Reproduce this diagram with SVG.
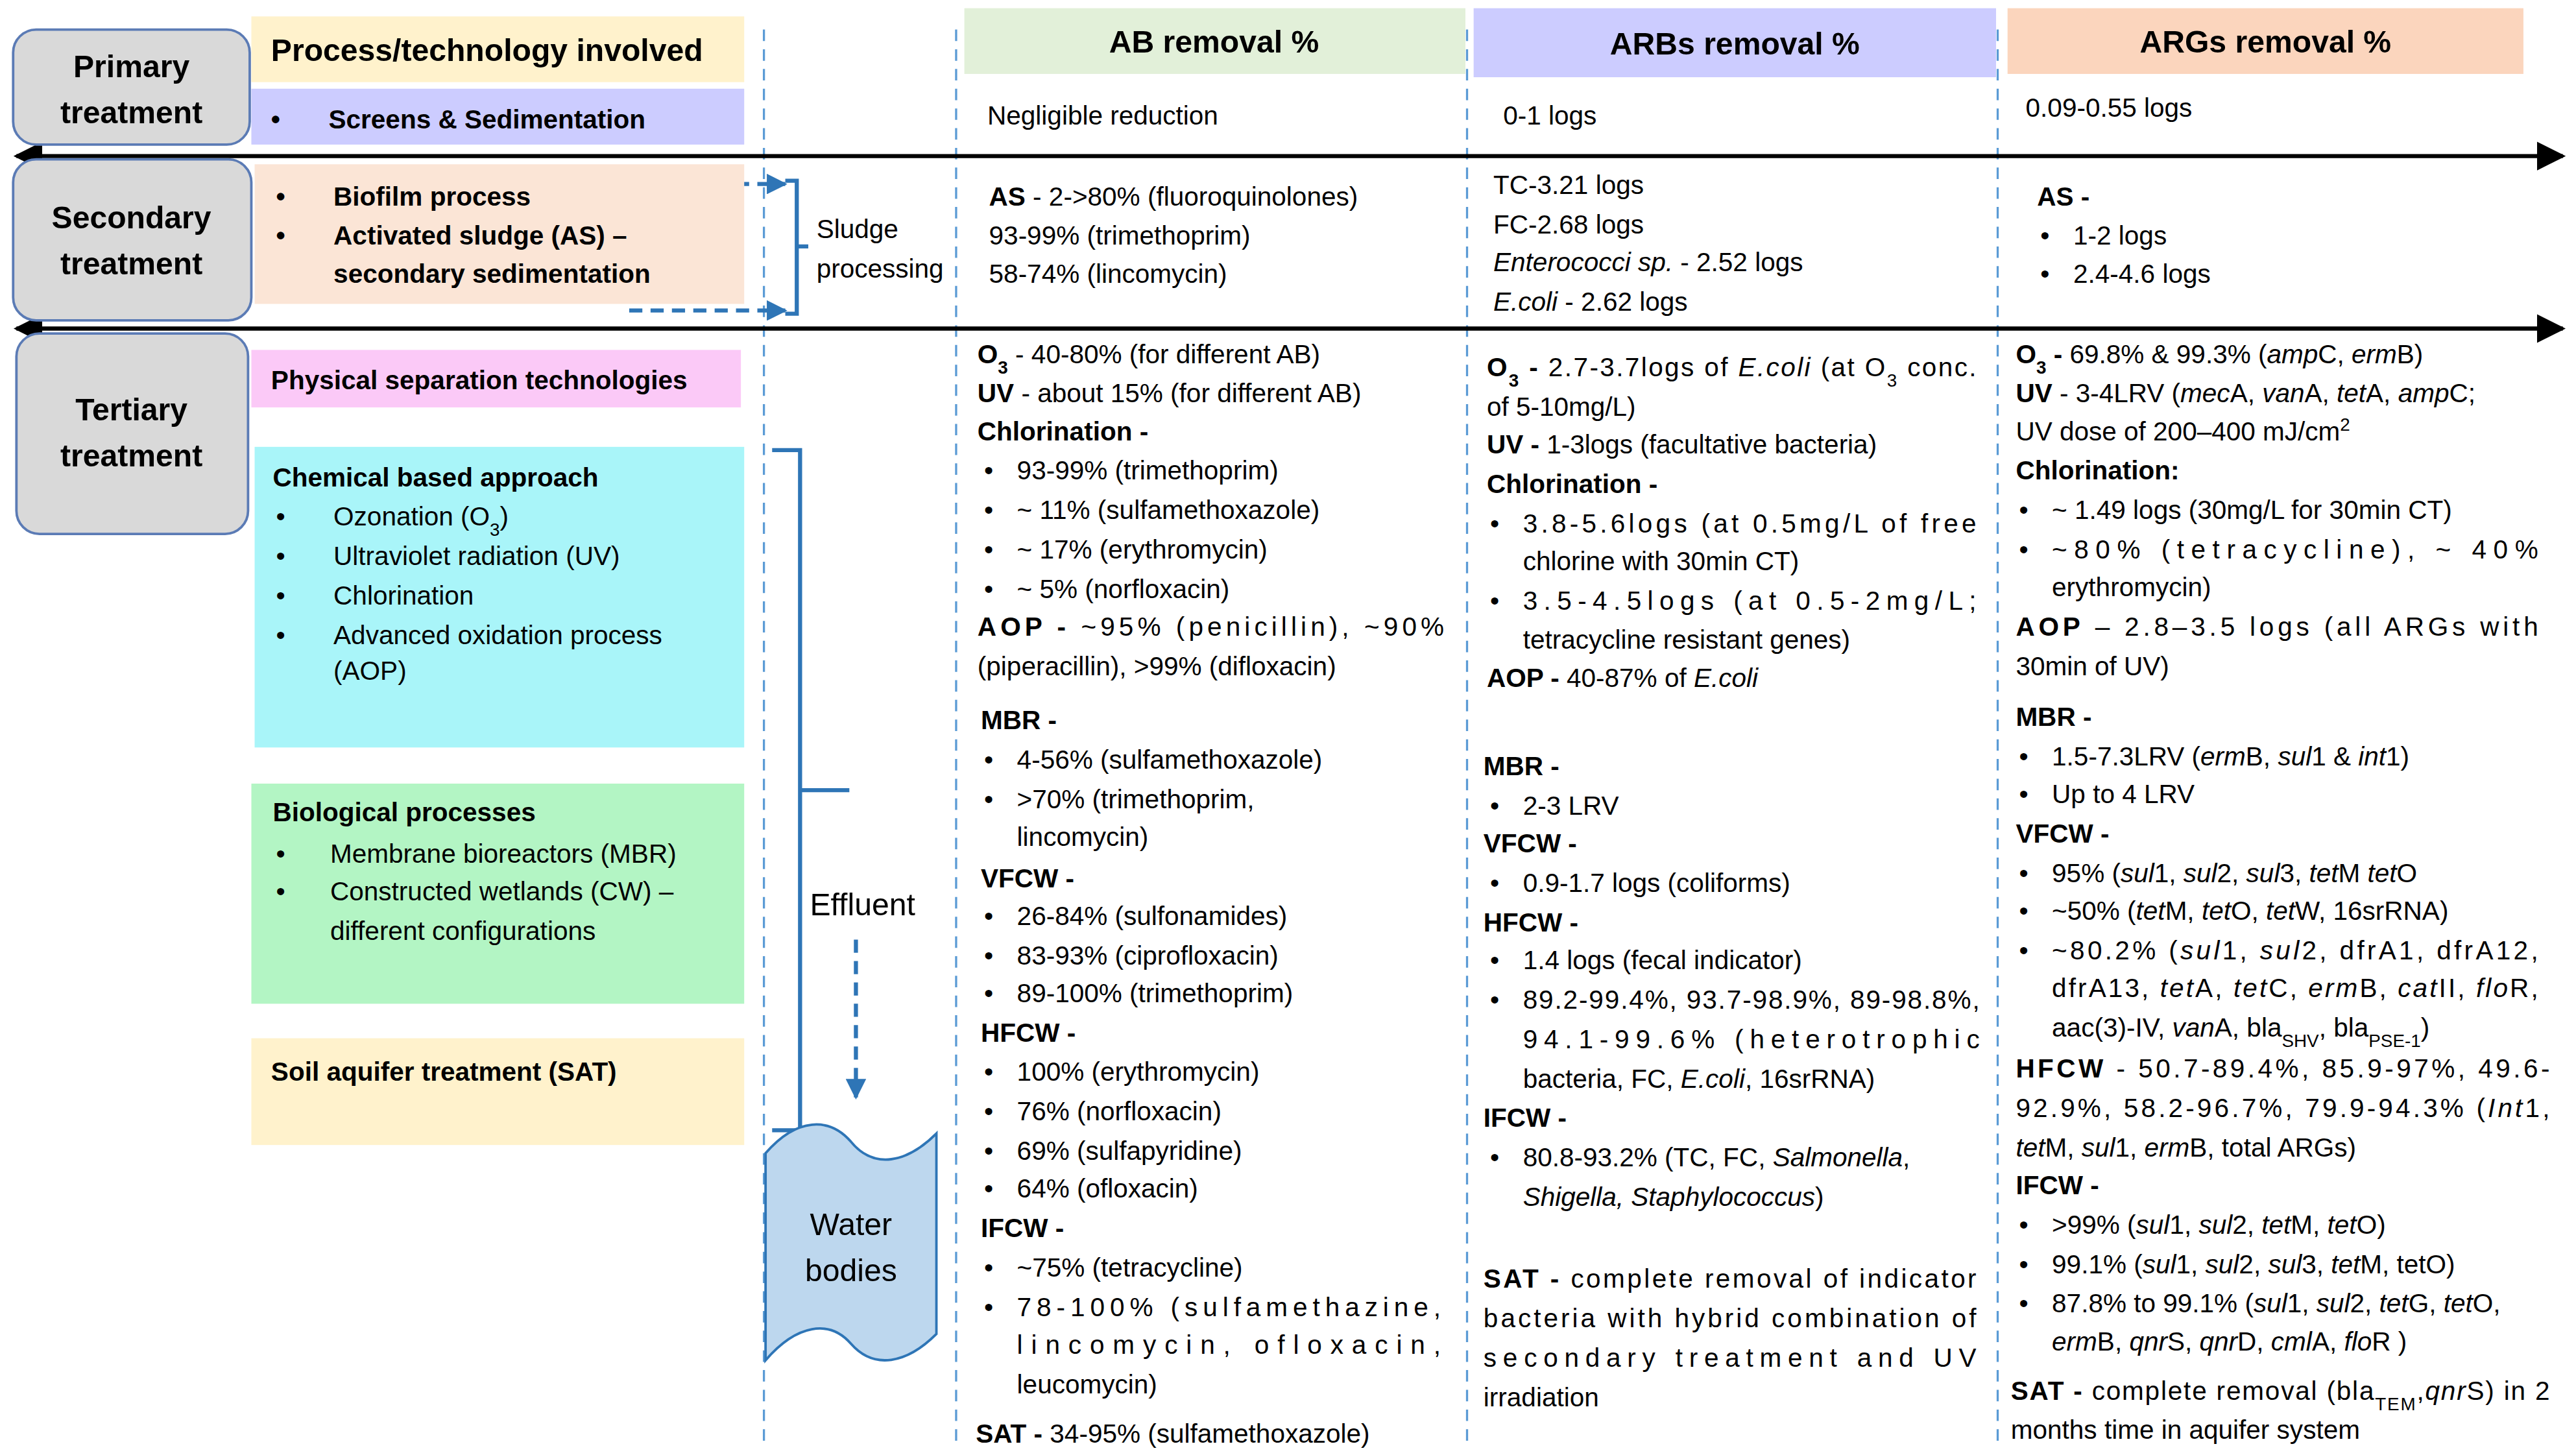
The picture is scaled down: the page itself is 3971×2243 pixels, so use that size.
<svg xmlns="http://www.w3.org/2000/svg" width="3971" height="2243" viewBox="0 0 3971 2243">
<style>
text{font-family:"Liberation Sans",Arial,sans-serif;font-size:16px;fill:#000}
.b{font-weight:bold}.i{font-style:italic}
.h{font-size:19px;font-weight:bold}
.c{text-anchor:middle}
.s{font-size:11px;baseline-shift:sub}
.p{font-size:11px;baseline-shift:super}
.vd{stroke:#5b9bd5;stroke-width:1.3;stroke-dasharray:7 5;fill:none}
.bl{stroke:#2e75b6;stroke-width:2.5;fill:none}
.nb{fill:#d9d9d9;stroke:#5b7bb5;stroke-width:1.5}
</style>
<defs>
<marker id="ah" viewBox="0 0 10 10" refX="9" refY="5" markerWidth="7" markerHeight="7" orient="auto-start-reverse"><path d="M0,0L10,5L0,10z" fill="#000"/></marker>
<marker id="bh" viewBox="0 0 10 10" refX="9" refY="5" markerWidth="5" markerHeight="5" orient="auto"><path d="M0,0L10,5L0,10z" fill="#2e75b6"/></marker>
</defs>
<rect width="3971" height="2243" fill="#fff"/>
<g transform="scale(2.5325)">
<g id="connectors">
<line class="vd" x1="465" y1="18" x2="465" y2="880"/>
<line class="vd" x1="582" y1="18" x2="582" y2="880"/>
<line class="vd" x1="893" y1="18" x2="893" y2="880"/>
<line class="vd" x1="1216" y1="18" x2="1216" y2="880"/>
<line x1="10" y1="95" x2="1560" y2="95" stroke="#000" stroke-width="2.5" marker-start="url(#ah)" marker-end="url(#ah)"/>
<line x1="10" y1="200" x2="1560" y2="200" stroke="#000" stroke-width="2.5" marker-start="url(#ah)" marker-end="url(#ah)"/>
<line x1="383" y1="112" x2="478" y2="112" stroke="#2e75b6" stroke-width="2.5" stroke-dasharray="8 5" marker-end="url(#bh)"/>
<line x1="383" y1="189" x2="478" y2="189" stroke="#2e75b6" stroke-width="2.5" stroke-dasharray="8 5" marker-end="url(#bh)"/>
<path class="bl" d="M478,110 H485 V191 H478 M485,150 H492"/>
<path class="bl" d="M470,274 H487 V688 H470 M487,481 H517"/>
<line x1="521" y1="572" x2="521" y2="668" stroke="#2e75b6" stroke-width="2.5" stroke-dasharray="8 5" marker-end="url(#bh)"/>
</g>
<g id="primary"><rect class="nb" x="8" y="18" width="144" height="70" rx="14"/><text class="h c" x="80" y="47">Primary</text><text class="h c" x="80" y="75">treatment</text></g>
<g id="secondary"><rect class="nb" x="8" y="97" width="145" height="98" rx="14"/><text class="h c" x="80" y="139">Secondary</text><text class="h c" x="80" y="167">treatment</text></g>
<g id="tertiary"><rect class="nb" x="10" y="203" width="141" height="122" rx="14"/><text class="h c" x="80" y="256">Tertiary</text><text class="h c" x="80" y="284">treatment</text></g>
<g id="process-header"><rect x="153" y="10" width="300" height="40" fill="#fff2cc"/><text class="h" x="165" y="37">Process/technology involved</text></g>
<g id="screens"><rect x="153" y="54" width="300" height="34" fill="#ccccff"/><text class="b" x="165" y="78">•</text><text class="b" x="200" y="78">Screens &amp; Sedimentation</text></g>
<g id="secondary-tech"><rect x="155" y="100" width="298" height="85" fill="#fbe5d6"/>
<text class="b" x="168" y="125">•</text><text class="b" x="203" y="125">Biofilm process</text>
<text class="b" x="168" y="149">•</text><text class="b" x="203" y="149">Activated sludge (AS) –</text>
<text class="b" x="203" y="172">secondary sedimentation</text></g>
<g id="sludge"><text x="497" y="145">Sludge</text><text x="497" y="169">processing</text></g>
<g id="ab-header"><rect x="587" y="5" width="305" height="40" fill="#e2f0d9"/><text class="h c" x="739" y="32">AB removal %</text></g>
<g id="arb-header"><rect x="897" y="5" width="318" height="42" fill="#ccccff"/><text class="h c" x="1056" y="33">ARBs removal %</text></g>
<g id="arg-header"><rect x="1222" y="5" width="314" height="40" fill="#fbd5bd"/><text class="h c" x="1379" y="32">ARGs removal %</text></g>
<g id="physical"><rect x="153" y="213" width="298" height="35" fill="#fbc9f7"/><text class="b" x="165" y="237">Physical separation technologies</text></g>
<g id="chemical"><rect x="155" y="272" width="298" height="183" fill="#a9f5f9"/>
<text class="b" x="166" y="296">Chemical based approach</text>
<text x="168" y="320">•</text><text x="203" y="320">Ozonation (O<tspan class="s">3</tspan>)</text>
<text x="168" y="344">•</text><text x="203" y="344">Ultraviolet radiation (UV)</text>
<text x="168" y="368">•</text><text x="203" y="368">Chlorination</text>
<text x="168" y="392">•</text><text x="203" y="392">Advanced oxidation process</text>
<text x="203" y="414">(AOP)</text></g>
<g id="biological"><rect x="153" y="477" width="300" height="134" fill="#b3f5c4"/>
<text class="b" x="166" y="500">Biological processes</text>
<text x="168" y="525">•</text><text x="201" y="525">Membrane bioreactors (MBR)</text>
<text x="168" y="548">•</text><text x="201" y="548">Constructed wetlands (CW) –</text>
<text x="201" y="572">different configurations</text></g>
<g id="sat"><rect x="153" y="632" width="300" height="65" fill="#fff2cc"/><text class="b" x="165" y="658">Soil aquifer treatment (SAT)</text></g>
<g id="effluent"><text x="493" y="557" style="font-size:19px">Effluent</text></g>
<g id="water"><path d="M466,702 C485,680 505,680 518,695 C532,712 552,708 570,690 L570,812 C552,830 532,834 518,818 C505,803 485,806 466,828 Z" fill="#bdd7ee" stroke="#2e75b6" stroke-width="1.5"/>
<text class="c" x="518" y="752" style="font-size:19px">Water</text><text class="c" x="518" y="780" style="font-size:19px">bodies</text></g>

<g id="ab-col">
<text x="601" y="76">Negligible reduction</text>
<text x="602" y="125"><tspan class="b">AS</tspan> - 2-&gt;80% (fluoroquinolones)</text>
<text x="602" y="149">93-99% (trimethoprim)</text>
<text x="602" y="172">58-74% (lincomycin)</text>
<text x="595" y="221"><tspan class="b">O<tspan class="s">3</tspan></tspan> - 40-80% (for different AB)</text>
<text x="595" y="245"><tspan class="b">UV</tspan> - about 15% (for different AB)</text>
<text class="b" x="595" y="268">Chlorination -</text>
<text x="599" y="292">•</text><text x="619" y="292">93-99% (trimethoprim)</text>
<text x="599" y="316">•</text><text x="619" y="316">~ 11% (sulfamethoxazole)</text>
<text x="599" y="340">•</text><text x="619" y="340">~ 17% (erythromycin)</text>
<text x="599" y="364">•</text><text x="619" y="364">~ 5% (norfloxacin)</text>
<text x="595" y="387" textLength="284" lengthAdjust="spacing"><tspan class="b">AOP -</tspan> ~95% (penicillin), ~90%</text>
<text x="595" y="411">(piperacillin), &gt;99% (difloxacin)</text>
<text class="b" x="597" y="444">MBR -</text>
<text x="599" y="468">•</text><text x="619" y="468">4-56% (sulfamethoxazole)</text>
<text x="599" y="492">•</text><text x="619" y="492">&gt;70% (trimethoprim,</text>
<text x="619" y="515">lincomycin)</text>
<text class="b" x="597" y="540">VFCW -</text>
<text x="599" y="563">•</text><text x="619" y="563">26-84% (sulfonamides)</text>
<text x="599" y="587">•</text><text x="619" y="587">83-93% (ciprofloxacin)</text>
<text x="599" y="610">•</text><text x="619" y="610">89-100% (trimethoprim)</text>
<text class="b" x="597" y="634">HFCW -</text>
<text x="599" y="658">•</text><text x="619" y="658">100% (erythromycin)</text>
<text x="599" y="682">•</text><text x="619" y="682">76% (norfloxacin)</text>
<text x="599" y="706">•</text><text x="619" y="706">69% (sulfapyridine)</text>
<text x="599" y="729">•</text><text x="619" y="729">64% (ofloxacin)</text>
<text class="b" x="597" y="753">IFCW -</text>
<text x="599" y="777">•</text><text x="619" y="777">~75% (tetracycline)</text>
<text x="599" y="801">•</text><text x="619" y="801" textLength="258" lengthAdjust="spacing">78-100% (sulfamethazine,</text>
<text x="619" y="824" textLength="258" lengthAdjust="spacing">lincomycin, ofloxacin,</text>
<text x="619" y="848">leucomycin)</text>
<text x="594" y="878"><tspan class="b">SAT -</tspan> 34-95% (sulfamethoxazole)</text>
</g>

<g id="arb-col">
<text x="915" y="76">0-1 logs</text>
<text x="909" y="118">TC-3.21 logs</text>
<text x="909" y="142">FC-2.68 logs</text>
<text x="909" y="165"><tspan class="i">Enterococci sp.</tspan> - 2.52 logs</text>
<text x="909" y="189"><tspan class="i">E.coli</tspan> - 2.62 logs</text>
<text x="905" y="229" textLength="298" lengthAdjust="spacing"><tspan class="b">O<tspan class="s">3</tspan> -</tspan> 2.7-3.7logs of <tspan class="i">E.coli</tspan> (at O<tspan class="s">3</tspan> conc.</text>
<text x="905" y="253">of 5-10mg/L)</text>
<text x="905" y="276"><tspan class="b">UV -</tspan> 1-3logs (facultative bacteria)</text>
<text class="b" x="905" y="300">Chlorination -</text>
<text x="907" y="324">•</text><text x="927" y="324" textLength="276" lengthAdjust="spacing">3.8-5.6logs (at 0.5mg/L of free</text>
<text x="927" y="347">chlorine with 30min CT)</text>
<text x="907" y="371">•</text><text x="927" y="371" textLength="276" lengthAdjust="spacing">3.5-4.5logs (at 0.5-2mg/L;</text>
<text x="927" y="395">tetracycline resistant genes)</text>
<text x="905" y="418"><tspan class="b">AOP -</tspan> 40-87% of <tspan class="i">E.coli</tspan></text>
<text class="b" x="903" y="472">MBR -</text>
<text x="907" y="496">•</text><text x="927" y="496">2-3 LRV</text>
<text class="b" x="903" y="519">VFCW -</text>
<text x="907" y="543">•</text><text x="927" y="543">0.9-1.7 logs (coliforms)</text>
<text class="b" x="903" y="567">HFCW -</text>
<text x="907" y="590">•</text><text x="927" y="590">1.4 logs (fecal indicator)</text>
<text x="907" y="614">•</text><text x="927" y="614" textLength="278" lengthAdjust="spacing">89.2-99.4%, 93.7-98.9%, 89-98.8%,</text>
<text x="927" y="638" textLength="278" lengthAdjust="spacing">94.1-99.6% (heterotrophic</text>
<text x="927" y="662">bacteria, FC, <tspan class="i">E.coli</tspan>, 16srRNA)</text>
<text class="b" x="903" y="686">IFCW -</text>
<text x="907" y="710">•</text><text x="927" y="710">80.8-93.2% (TC, FC, <tspan class="i">Salmonella</tspan>,</text>
<text x="927" y="734"><tspan class="i">Shigella, Staphylococcus</tspan>)</text>
<text x="903" y="784" textLength="300" lengthAdjust="spacing"><tspan class="b">SAT -</tspan> complete removal of indicator</text>
<text x="903" y="808" textLength="300" lengthAdjust="spacing">bacteria with hybrid combination of</text>
<text x="903" y="832" textLength="300" lengthAdjust="spacing">secondary treatment and UV</text>
<text x="903" y="856">irradiation</text>
</g>

<g id="arg-col">
<text x="1233" y="71">0.09-0.55 logs</text>
<text class="b" x="1240" y="125">AS -</text>
<text x="1242" y="149">•</text><text x="1262" y="149">1-2 logs</text>
<text x="1242" y="172">•</text><text x="1262" y="172">2.4-4.6 logs</text>
<text x="1227" y="221"><tspan class="b">O<tspan class="s">3</tspan> -</tspan> 69.8% &amp; 99.3% (<tspan class="i">amp</tspan>C, <tspan class="i">erm</tspan>B)</text>
<text x="1227" y="245"><tspan class="b">UV</tspan> - 3-4LRV (<tspan class="i">mec</tspan>A, <tspan class="i">van</tspan>A, <tspan class="i">tet</tspan>A, <tspan class="i">amp</tspan>C;</text>
<text x="1227" y="268">UV dose of 200–400 mJ/cm<tspan class="p">2</tspan></text>
<text class="b" x="1227" y="292">Chlorination:</text>
<text x="1229" y="316">•</text><text x="1249" y="316">~ 1.49 logs (30mg/L for 30min CT)</text>
<text x="1229" y="340">•</text><text x="1249" y="340" textLength="296" lengthAdjust="spacing">~80% (tetracycline), ~ 40%</text>
<text x="1249" y="363">erythromycin)</text>
<text x="1227" y="387" textLength="318" lengthAdjust="spacing"><tspan class="b">AOP</tspan> – 2.8–3.5 logs (all ARGs with</text>
<text x="1227" y="411">30min of UV)</text>
<text class="b" x="1227" y="442">MBR -</text>
<text x="1229" y="466">•</text><text x="1249" y="466">1.5-7.3LRV (<tspan class="i">erm</tspan>B, <tspan class="i">sul</tspan>1 &amp; <tspan class="i">int</tspan>1)</text>
<text x="1229" y="489">•</text><text x="1249" y="489">Up to 4 LRV</text>
<text class="b" x="1227" y="513">VFCW -</text>
<text x="1229" y="537">•</text><text x="1249" y="537">95% (<tspan class="i">sul</tspan>1, <tspan class="i">sul</tspan>2, <tspan class="i">sul</tspan>3, <tspan class="i">tet</tspan>M <tspan class="i">tet</tspan>O</text>
<text x="1229" y="560">•</text><text x="1249" y="560">~50% (<tspan class="i">tet</tspan>M, <tspan class="i">tet</tspan>O, <tspan class="i">tet</tspan>W, 16srRNA)</text>
<text x="1229" y="584">•</text><text x="1249" y="584" textLength="296" lengthAdjust="spacing">~80.2% (<tspan class="i">sul</tspan>1, <tspan class="i">sul</tspan>2, dfrA1, dfrA12,</text>
<text x="1249" y="607" textLength="296" lengthAdjust="spacing">dfrA13, <tspan class="i">tet</tspan>A, <tspan class="i">tet</tspan>C, <tspan class="i">erm</tspan>B, <tspan class="i">cat</tspan>II, <tspan class="i">flo</tspan>R,</text>
<text x="1249" y="631">aac(3)-IV, <tspan class="i">van</tspan>A, bla<tspan class="s">SHV</tspan>, bla<tspan class="s">PSE-1</tspan>)</text>
<text x="1227" y="656" textLength="325" lengthAdjust="spacing"><tspan class="b">HFCW</tspan> - 50.7-89.4%, 85.9-97%, 49.6-</text>
<text x="1227" y="680" textLength="325" lengthAdjust="spacing">92.9%, 58.2-96.7%, 79.9-94.3% (<tspan class="i">Int</tspan>1,</text>
<text x="1227" y="704"><tspan class="i">tet</tspan>M, <tspan class="i">sul</tspan>1, <tspan class="i">erm</tspan>B, total ARGs)</text>
<text class="b" x="1227" y="727">IFCW -</text>
<text x="1229" y="751">•</text><text x="1249" y="751">&gt;99% (<tspan class="i">sul</tspan>1, <tspan class="i">sul</tspan>2, <tspan class="i">tet</tspan>M, <tspan class="i">tet</tspan>O)</text>
<text x="1229" y="775">•</text><text x="1249" y="775">99.1% (<tspan class="i">sul</tspan>1, <tspan class="i">sul</tspan>2, <tspan class="i">sul</tspan>3, <tspan class="i">tet</tspan>M, tetO)</text>
<text x="1229" y="799">•</text><text x="1249" y="799">87.8% to 99.1% (<tspan class="i">sul</tspan>1, <tspan class="i">sul</tspan>2, <tspan class="i">tet</tspan>G, <tspan class="i">tet</tspan>O,</text>
<text x="1249" y="822"><tspan class="i">erm</tspan>B, <tspan class="i">qnr</tspan>S, <tspan class="i">qnr</tspan>D, <tspan class="i">cml</tspan>A, <tspan class="i">flo</tspan>R )</text>
<text x="1224" y="852" textLength="328" lengthAdjust="spacing"><tspan class="b">SAT -</tspan> complete removal (bla<tspan class="s">TEM</tspan>,<tspan class="i">qnr</tspan>S) in 2</text>
<text x="1224" y="876">months time  in aquifer system</text>
</g>
</g>
</svg>
